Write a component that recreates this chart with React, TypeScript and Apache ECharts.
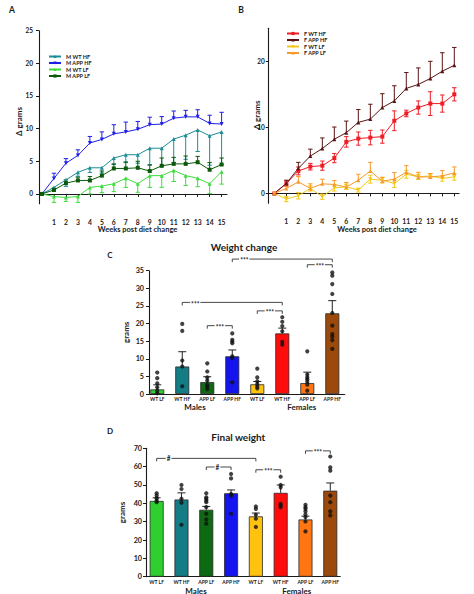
import { useEffect, useRef } from "react";
import * as echarts from "echarts";

const FONT = "Lato, 'Liberation Sans', sans-serif";
const INK = "#1a1a1a";

// ---- panel A / B : weekly weight change ----
const WEEKS = [0, 1, 2, 3, 4, 5, 6, 7, 8, 9, 10, 11, 12, 13, 14, 15];

const M_WT_HF = [0, 1.0, 2.15, 3.3, 4.0, 4.0, 5.5, 6.0, 6.0, 7.0, 7.0, 8.4, 9.0, 9.8, 8.9, 9.5];
const M_WT_HF_ERR = [0, 0.3, 1.0, 0.6, 0.7, 0.8, 1.0, 1.2, 1.3, 2.5, 2.8, 3.6, 3.7, 3.3, 4.5, 5.0];
const M_APP_HF = [0, 2.37, 4.7, 5.9, 7.8, 8.35, 9.2, 9.5, 9.9, 10.6, 10.7, 11.6, 11.8, 11.8, 10.8, 10.7];
const M_APP_HF_ERR = [0, 0.8, 0.7, 0.85, 1.0, 1.15, 1.4, 1.5, 1.2, 1.15, 1.15, 1.1, 1.0, 1.1, 1.25, 1.8];
const M_WT_LF = [0, -0.4, -0.55, -0.4, 1.0, 1.2, 1.55, 2.4, 1.55, 2.8, 2.8, 3.6, 2.8, 2.4, 1.55, 3.4];
const M_WT_LF_ERR = [0, 0.9, 0.6, 0.9, 1.0, 1.0, 1.2, 1.4, 1.3, 1.8, 1.8, 1.7, 1.5, 1.3, 1.5, 1.9];
const M_APP_LF = [0, 0.6, 1.65, 2.06, 2.06, 2.8, 3.9, 3.9, 4.0, 3.5, 4.3, 4.6, 4.6, 4.85, 3.7, 4.5];
const M_APP_LF_ERR = [0, 0.3, 0.5, 0.5, 0.6, 0.7, 0.7, 1.0, 1.0, 0.9, 1.2, 1.0, 1.2, 0.9, 1.1, 1.0];

const F_WT_HF = [0, 1.5, 3.4, 4.05, 4.2, 5.35, 7.8, 8.3, 8.45, 8.6, 11.0, 12.1, 13.0, 13.6, 13.6, 15.0];
const F_WT_HF_ERR = [0, 0.4, 0.6, 0.5, 0.7, 0.7, 0.8, 1.0, 1.1, 1.0, 1.5, 0.5, 1.0, 1.8, 1.3, 1.0];
const F_APP_HF = [0, 1.5, 3.8, 5.65, 6.8, 8.2, 9.2, 10.75, 11.25, 13.0, 14.0, 15.9, 16.5, 17.4, 18.5, 19.4];
const F_APP_HF_ERR = [0, 0.5, 0.9, 1.05, 1.6, 1.85, 1.75, 1.95, 2.25, 2.1, 2.3, 2.4, 2.5, 2.6, 2.8, 2.7];
const F_WT_LF = [0, -0.85, -0.35, 0.75, -0.5, 0.85, 1.0, 0.5, 2.15, 2.0, 1.5, 2.9, 2.5, 2.65, 2.25, 2.5];
const F_WT_LF_ERR = [0, 0.4, 0.5, 0.4, 0.4, 0.5, 0.4, 0.3, 0.6, 0.4, 0.6, 0.6, 0.4, 0.3, 0.4, 0.5];
const F_APP_LF = [0, 0.75, 1.75, 0.75, 1.45, 1.35, 0.95, 2.0, 3.4, 1.85, 2.15, 3.2, 2.5, 2.5, 2.65, 3.1];
const F_APP_LF_ERR = [0, 0.6, 0.8, 0.7, 0.7, 0.6, 0.7, 0.9, 1.3, 0.6, 1.0, 1.0, 0.7, 0.5, 0.8, 0.9];

const A_TICKS = [0, 5, 10, 15, 20, 25];
const B_TICKS = [0, 10, 20];
const WEEK_LABELS = WEEKS.slice(1);

// ---- panel C / D : group bars ----
const GROUPS = ["WT LF", "WT HF", "APP LF", "APP HF", "WT LF", "WT HF", "APP LF", "APP HF"];
const BAR_COLORS = ["#2fcf2f", "#137c84", "#0d6a12", "#1414ee", "#ffc20e", "#ff0d0d", "#ff7613", "#9b4a0b"];

const C_MEAN = [1.3, 7.8, 3.4, 10.7, 2.75, 17.2, 3.1, 22.9];
const C_SEM = [1.3, 4.2, 1.5, 1.8, 0.8, 1.5, 3.1, 3.6];
const C_POINTS = [
  [6.1, 4.5, 3.0, 1.9, 0.9, 0.2],
  [19.9, 17.9, 9.5, 7.8, 2.2],
  [8.7, 6.4, 4.7, 3.8, 2.6, 2.1, 1.4],
  [17.2, 15.4, 14.9, 14.4, 10.7, 10.2, 3.3],
  [7.2, 4.7, 3.6, 2.8, 2.1, 1.6],
  [21.8, 20.5, 19.3, 17.8, 14.8, 14.0],
  [12.1, 5.5, 4.7, 4.2, 3.5, 2.65, 0.95],
  [34.5, 33.6, 31.2, 28.4, 23.0, 19.4, 17.0, 16.3, 15.3, 12.8],
];

const D_MEAN = [41.3, 42.1, 36.5, 45.5, 32.9, 45.7, 31.2, 46.9];
const D_SEM = [1.7, 3.6, 1.8, 1.8, 1.8, 4.3, 1.8, 4.2];
const D_POINTS = [
  [45.5, 44.2, 42.8, 41.5, 40.6],
  [50, 47.8, 42.4, 40.3, 28.3],
  [45.5, 43.3, 42.4, 41.5, 40.6, 37.9, 34.3, 31.2, 28.9],
  [56, 53.6, 45.1, 44.2, 34.3],
  [38.3, 37, 33.8, 31.6, 27.1],
  [54.5, 50, 48.7, 39.7, 38.8, 37.9],
  [39.2, 37.9, 37, 35.6, 33.9, 32.5, 30.1, 24.7],
  [65.5, 59.6, 57.8, 44.2, 40.6, 35.6, 33.4],
];

// [from group, to group, y, label, where the label sits along the bracket]
type Bracket = [number, number, number, string, number];
const C_BRACKETS: Bracket[] = [
  [3, 7, 38.3, "***", 0.12],
  [6, 7, 36.7, "***", 0.5],
  [1, 5, 26.0, "***", 0.13],
  [4, 5, 23.6, "***", 0.5],
  [2, 3, 19.4, "***", 0.5],
];
const D_BRACKETS: Bracket[] = [
  [0, 4, 64.5, "#", 0.12],
  [2, 3, 59.8, "#", 0.45],
  [4, 5, 58.3, "***", 0.5],
  [6, 7, 68.6, "***", 0.5],
];

type Dir = "up" | "down" | "both";

function errData(mean: number[], err: number[], dir: Dir) {
  return WEEKS.map((w, i) => [
    w,
    dir === "up" ? mean[i] : mean[i] - err[i],
    dir === "down" ? mean[i] : mean[i] + err[i],
    mean[i],
  ]).filter((_, i) => err[i] > 0);
}

function errorRender(cap: number, color: string, width = 1) {
  return (_params: any, api: any) => {
    const x = api.value(0);
    const lo = api.value(1);
    const hi = api.value(2);
    const m = api.value(3);
    const t = api.coord([x, hi]);
    const b = api.coord([x, lo]);
    const style = { stroke: color, lineWidth: width };
    const children: any[] = [
      { type: "line", shape: { x1: t[0], y1: t[1], x2: b[0], y2: b[1] }, style },
    ];
    if (hi > m)
      children.push({ type: "line", shape: { x1: t[0] - cap, y1: t[1], x2: t[0] + cap, y2: t[1] }, style });
    if (lo < m)
      children.push({ type: "line", shape: { x1: b[0] - cap, y1: b[1], x2: b[0] + cap, y2: b[1] }, style });
    return { type: "group", children };
  };
}

const TRI_DOWN = "path://M0,0L10,0L5,9Z";

function weekLine(name: string, mean: number[], err: number[], dir: Dir, color: string, symbol: string, ax: number) {
  return [
    {
      type: "custom",
      name: name + " err",
      xAxisIndex: ax,
      yAxisIndex: ax,
      data: errData(mean, err, dir),
      encode: { x: 0, y: [1, 2] },
      renderItem: errorRender(2.2, color),
      silent: true,
      z: 3,
    },
    {
      type: "line",
      name,
      xAxisIndex: ax,
      yAxisIndex: ax,
      data: WEEKS.map((w, i) => [w, mean[i]]),
      symbol,
      symbolSize: 4,
      showAllSymbol: true,
      lineStyle: { color, width: 1 },
      itemStyle: { color },
      clip: false,
      z: 4,
    },
  ];
}

function bracketRender(list: Bracket[], tick: number) {
  return (params: any, api: any) => {
    const [a, b, y, label, frac] = list[params.dataIndex];
    const p1 = api.coord([a, y]);
    const p2 = api.coord([b, y]);
    const tx = p1[0] + (p2[0] - p1[0]) * frac;
    return {
      type: "group",
      children: [
        {
          type: "polyline",
          shape: {
            points: [
              [p1[0], p1[1] + tick],
              [p1[0], p1[1]],
              [p2[0], p2[1]],
              [p2[0], p2[1] + tick],
            ],
          },
          style: { stroke: "#333", lineWidth: 0.9, fill: null },
        },
        {
          type: "text",
          x: tx,
          y: p1[1] + (label === "#" ? 0 : 1.6),
          style: {
            text: label,
            fontSize: 6.5,
            fontWeight: "bold",
            fontFamily: FONT,
            fill: INK,
            align: "center",
            verticalAlign: "middle",
            backgroundColor: "#fff",
            padding: [0, 1],
          },
        },
      ],
    };
  };
}

function groupPanel(idx: number, mean: number[], sem: number[], pts: number[][], brackets: Bracket[]) {
  return [
    {
      type: "bar",
      xAxisIndex: idx,
      yAxisIndex: idx,
      barWidth: 14,
      data: mean.map((v, i) => ({ value: [i, v], itemStyle: { color: BAR_COLORS[i] } })),
      itemStyle: { borderColor: "#2a2a2a", borderWidth: 0.8 },
      z: 2,
    },
    {
      type: "custom",
      xAxisIndex: idx,
      yAxisIndex: idx,
      data: mean.map((v, i) => [i, v, v + sem[i], v]),
      encode: { x: 0, y: [1, 2] },
      renderItem: errorRender(4, "#222", 1),
      silent: true,
      z: 3,
    },
    {
      type: "scatter",
      xAxisIndex: idx,
      yAxisIndex: idx,
      data: pts.flatMap((g, i) => g.map((v) => [i, v])),
      symbolSize: 4.2,
      itemStyle: { color: "#111" },
      z: 4,
    },
    {
      type: "custom",
      xAxisIndex: idx,
      yAxisIndex: idx,
      data: brackets.map((b) => [b[0], b[2]]),
      encode: { x: 0, y: 1 },
      renderItem: bracketRender(brackets, 3),
      clip: false,
      silent: true,
      z: 5,
    },
  ];
}

const axisLine = { show: true, onZero: false, lineStyle: { color: INK, width: 1.1 } };
const tickStyle = { lineStyle: { color: INK, width: 1 } };

function txt(text: string, x: number, y: number, size: number, rotation = 0) {
  return {
    type: "text",
    x,
    y,
    rotation,
    style: {
      text,
      fontSize: size,
      fontWeight: "bold",
      fontFamily: FONT,
      fill: INK,
      align: "center",
      verticalAlign: "middle",
    },
  };
}

const option: any = {
  animation: false,
  backgroundColor: "#fff",
  textStyle: { fontFamily: FONT },
  grid: [
    { left: 39, top: 30.7, width: 188, height: 173 },
    { left: 268.7, top: 28.3, width: 190.4, height: 175 },
    { left: 149, top: 270.7, width: 195.8, height: 123.3 },
    { left: 146, top: 448.3, width: 194.2, height: 128.4 },
  ],
  legend: [
    {
      data: ["M WT HF", "M APP HF", "M WT LF", "M APP LF"],
      left: 43,
      top: 48.5,
      orient: "vertical",
      itemGap: 0.5,
      itemWidth: 12,
      itemHeight: 4,
      textStyle: { fontSize: 5.5, fontWeight: "bold", color: INK },
    },
    {
      data: ["F WT HF", "F APP HF", "F WT LF", "F APP LF"],
      left: 281,
      top: 25.5,
      orient: "vertical",
      itemGap: 0.5,
      itemWidth: 12,
      itemHeight: 4,
      textStyle: { fontSize: 5.5, fontWeight: "bold", color: INK },
    },
  ],
  xAxis: [
    {
      gridIndex: 0,
      type: "value",
      min: -0.25,
      max: 15.45,
      axisLine: { show: true, onZero: true, lineStyle: { color: INK, width: 1.1 } },
      axisTick: { show: true, length: 3, customValues: WEEK_LABELS, ...tickStyle },
      axisLabel: { customValues: WEEK_LABELS, fontSize: 6.8, fontWeight: "bold", color: INK, margin: 15 },
      splitLine: { show: false },
    },
    {
      gridIndex: 1,
      type: "value",
      min: -0.47,
      max: 15.4,
      axisLine: { show: true, onZero: true, lineStyle: { color: INK, width: 1.1 } },
      axisTick: { show: true, length: 3, customValues: WEEK_LABELS, ...tickStyle },
      axisLabel: { customValues: WEEK_LABELS, fontSize: 6.8, fontWeight: "bold", color: INK, margin: 14.5 },
      splitLine: { show: false },
    },
    {
      gridIndex: 2,
      type: "value",
      min: -0.33,
      max: 7.5,
      axisLine,
      axisTick: { show: false },
      axisLabel: {
        customValues: [0, 1, 2, 3, 4, 5, 6, 7],
        formatter: (v: number) => GROUPS[Math.round(v)],
        fontSize: 5,
        fontWeight: "bold",
        color: INK,
        margin: 2,
      },
      splitLine: { show: false },
    },
    {
      gridIndex: 3,
      type: "value",
      min: -0.43,
      max: 7.4,
      axisLine,
      axisTick: { show: false },
      axisLabel: {
        customValues: [0, 1, 2, 3, 4, 5, 6, 7],
        formatter: (v: number) => GROUPS[Math.round(v)],
        fontSize: 5,
        fontWeight: "bold",
        color: INK,
        margin: 3,
      },
      splitLine: { show: false },
    },
  ],
  yAxis: [
    {
      gridIndex: 0,
      type: "value",
      min: -1.5,
      max: 25,
      axisLine,
      axisTick: { show: true, length: 3, customValues: A_TICKS, ...tickStyle },
      axisLabel: { customValues: A_TICKS, fontSize: 6.5, fontWeight: "bold", color: INK, margin: 6 },
      splitLine: { show: false },
    },
    {
      gridIndex: 1,
      type: "value",
      min: -1.5,
      max: 25,
      axisLine,
      axisTick: { show: true, length: 3, customValues: B_TICKS, ...tickStyle },
      axisLabel: { customValues: B_TICKS, fontSize: 6.5, fontWeight: "bold", color: INK, margin: 4 },
      splitLine: { show: false },
    },
    {
      gridIndex: 2,
      type: "value",
      min: 0,
      max: 35,
      interval: 5,
      axisLine,
      axisTick: { show: true, length: 3, ...tickStyle },
      axisLabel: { fontSize: 7.2, fontWeight: "bold", color: INK, margin: 5 },
      splitLine: { show: false },
      name: "grams",
      nameLocation: "middle",
      nameGap: 19,
      nameTextStyle: { fontSize: 8, fontWeight: "bold", color: INK },
    },
    {
      gridIndex: 3,
      type: "value",
      min: 0,
      max: 70,
      interval: 10,
      axisLine,
      axisTick: { show: true, length: 3, ...tickStyle },
      axisLabel: { fontSize: 7.2, fontWeight: "bold", color: INK, margin: 4 },
      splitLine: { show: false },
      name: "grams",
      nameLocation: "middle",
      nameGap: 20,
      nameTextStyle: { fontSize: 8, fontWeight: "bold", color: INK },
    },
  ],
  graphic: [
    txt("A", 12, 10, 8.5),
    txt("B", 241, 10, 8.5),
    txt("C", 110, 254.5, 8),
    txt("D", 110, 431, 8),
    txt("Δ grams", 19, 121.5, 8, Math.PI / 2),
    txt("Δ grams", 257, 115, 8, Math.PI / 2),
    txt("Weeks post diet change", 137.5, 229.7, 7.5),
    txt("Weeks post diet change", 377, 229.3, 7.5),
    txt("Weight change", 244, 247.3, 10),
    txt("Final weight", 238.3, 436.7, 10),
    txt("Males", 195, 406.7, 8),
    txt("Females", 301.7, 406.7, 8),
    txt("Males", 196, 590.5, 8),
    txt("Females", 296.7, 590.5, 8),
  ],
  series: [
    ...weekLine("M WT HF", M_WT_HF, M_WT_HF_ERR, "down", "#1b8e96", "triangle", 0),
    ...weekLine("M APP HF", M_APP_HF, M_APP_HF_ERR, "up", "#1f1fe6", TRI_DOWN, 0),
    ...weekLine("M WT LF", M_WT_LF, M_WT_LF_ERR, "down", "#3ddc3d", "triangle", 0),
    ...weekLine("M APP LF", M_APP_LF, M_APP_LF_ERR, "up", "#0b5a0b", "rect", 0),
    ...weekLine("F WT HF", F_WT_HF, F_WT_HF_ERR, "both", "#ee1c25", "rect", 1),
    ...weekLine("F APP HF", F_APP_HF, F_APP_HF_ERR, "up", "#5a1414", "triangle", 1),
    ...weekLine("F WT LF", F_WT_LF, F_WT_LF_ERR, "both", "#f2c81a", TRI_DOWN, 1),
    ...weekLine("F APP LF", F_APP_LF, F_APP_LF_ERR, "up", "#f79a2c", "triangle", 1),
    ...groupPanel(2, C_MEAN, C_SEM, C_POINTS, C_BRACKETS),
    ...groupPanel(3, D_MEAN, D_SEM, D_POINTS, D_BRACKETS),
  ],
};

export default function App() {
  const chartRef = useRef<HTMLDivElement>(null);

  useEffect(() => {
    if (!chartRef.current) return;
    const chart = echarts.init(chartRef.current, null, { renderer: "svg" });
    chart.setOption(option);
    return () => {
      chart.dispose();
    };
  }, []);

  return (
    <div
      ref={chartRef}
      style={{ position: "fixed", left: 0, top: 0, width: 474, height: 594, background: "#fff" }}
    />
  );
}
